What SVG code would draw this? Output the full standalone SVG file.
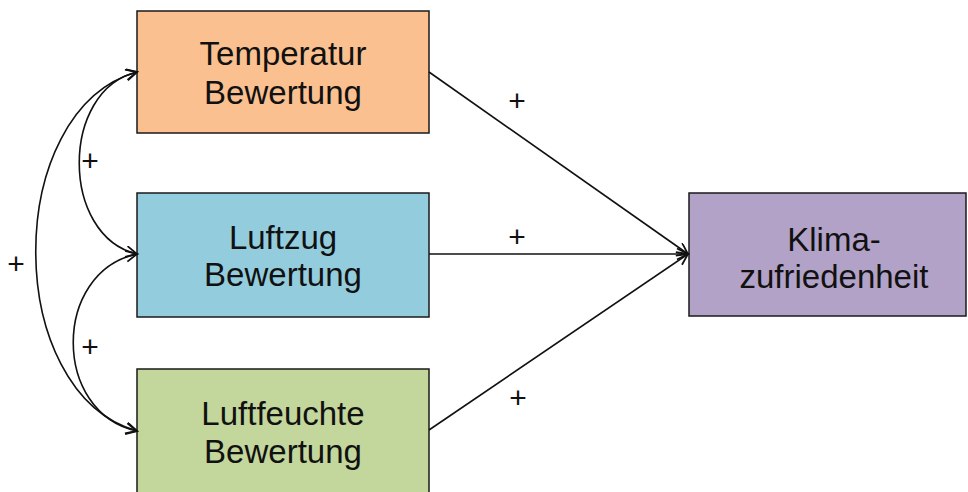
<svg xmlns="http://www.w3.org/2000/svg" width="968" height="492" viewBox="0 0 968 492">
<style>
.box{stroke:#1a1a1a;stroke-width:1.5}
.lbl{font-family:"Liberation Sans",Arial,sans-serif;font-size:33px;fill:#111;text-anchor:middle}
.plus{font-family:"Liberation Sans",Arial,sans-serif;font-size:30px;fill:#111;text-anchor:middle}
.con{fill:none;stroke:#111;stroke-width:1.6}
</style>
<defs>
<marker id="ah" markerWidth="14" markerHeight="14" refX="12" refY="6" orient="auto" markerUnits="userSpaceOnUse">
<path d="M1,0.5 L12,6 L1,11.5" fill="none" stroke="#111" stroke-width="1.8"/>
</marker>
<marker id="as" markerWidth="14" markerHeight="14" refX="12" refY="6" orient="auto-start-reverse" markerUnits="userSpaceOnUse">
<path d="M1,0.5 L12,6 L1,11.5" fill="none" stroke="#111" stroke-width="1.8"/>
</marker>
</defs>
<rect width="968" height="492" fill="#fff"/>
<g id="temperatur">
<rect class="box" x="137" y="11" width="292" height="122" fill="#FAC090"/>
<text class="lbl" x="283" y="65">Temperatur</text>
<text class="lbl" x="283" y="104">Bewertung</text>
</g>
<g id="luftzug">
<rect class="box" x="137" y="193" width="292" height="124" fill="#93CDDD"/>
<text class="lbl" x="283" y="249">Luftzug</text>
<text class="lbl" x="283" y="286">Bewertung</text>
</g>
<g id="luftfeuchte">
<rect class="box" x="137" y="369" width="292" height="130" fill="#C3D69B"/>
<text class="lbl" x="283" y="425">Luftfeuchte</text>
<text class="lbl" x="283" y="463">Bewertung</text>
</g>
<g id="klima">
<rect class="box" x="689" y="193" width="277" height="123" fill="#B2A2C7"/>
<text class="lbl" x="834" y="251">Klima-</text>
<text class="lbl" x="834" y="288">zufriedenheit</text>
</g>
<g id="connectors">
<path class="con" d="M429,72 L688,254" marker-end="url(#ah)"/>
<path class="con" d="M429,254 L688,254" marker-end="url(#ah)"/>
<path class="con" d="M429,430 L688,254" marker-end="url(#ah)"/>
<path class="con" d="M137,72 C60,90 60,236 137,254" marker-start="url(#as)" marker-end="url(#ah)"/>
<path class="con" d="M137,254 C52,272 52,413 137,431" marker-start="url(#as)" marker-end="url(#ah)"/>
<path class="con" d="M137,72 C2,110 2,393 137,431" marker-start="url(#as)" marker-end="url(#ah)"/>
<text class="plus" x="90" y="171">+</text>
<text class="plus" x="16" y="274">+</text>
<text class="plus" x="90" y="357">+</text>
<text class="plus" x="517" y="111">+</text>
<text class="plus" x="517" y="247">+</text>
<text class="plus" x="518" y="408">+</text>
</g>
</svg>
